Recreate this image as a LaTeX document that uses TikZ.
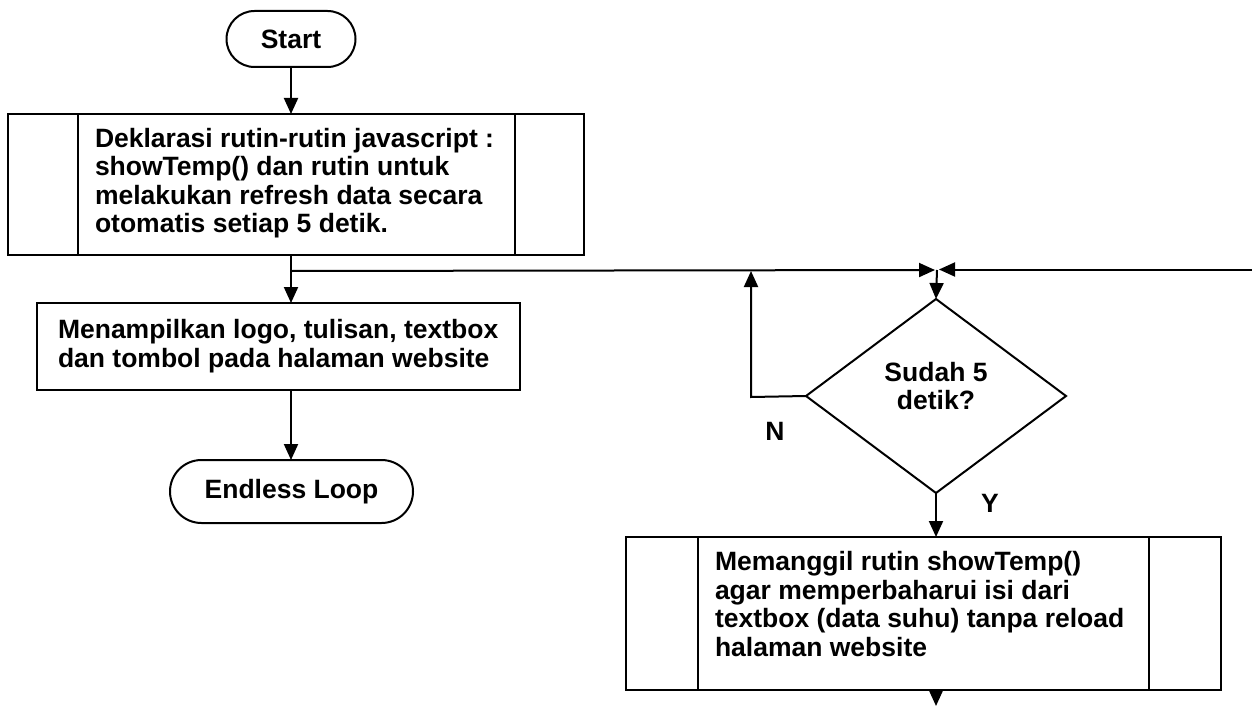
\documentclass[tikz,border=0pt]{standalone}
\usepackage{fontspec}
\setmainfont{Liberation Sans}
\usetikzlibrary{shapes.geometric,shapes.misc,arrows.meta,calc}
\begin{document}
\begin{tikzpicture}[x=1pt,y=-1pt,line width=2pt,
  every node/.style={inner sep=0pt,outer sep=0pt},
  txt/.style={font=\fontsize{26.5}{28.5}\selectfont\bfseries,align=left},
  ctxt/.style={font=\fontsize{26.5}{28.5}\selectfont\bfseries,align=center},
  term/.style={draw,rounded rectangle,ctxt},
  procbox/.style={draw,rectangle},
  decbox/.style={draw,diamond,ctxt},
  arr/.style={-{Triangle[length=16pt,width=14pt]}}]
\useasboundingbox (0,0) rectangle (1252,706);
% terminals
\node[term,minimum width=129pt,minimum height=56pt] (start) at (291,39) {Start};
% predefined process 1
\node[procbox,minimum width=576pt,minimum height=141pt] (dek) at (296,184.5) {};
\draw ($(dek.north west)+(70,0)$) -- ($(dek.south west)+(70,0)$);
\draw ($(dek.north east)+(-69,0)$) -- ($(dek.south east)+(-69,0)$);
\node[txt,anchor=west] (dektxt) at (95,183) {Deklarasi rutin-rutin javascript :\\showTemp() dan rutin untuk\\melakukan refresh data secara\\otomatis setiap 5 detik.};
% process 2
\node[procbox,minimum width=483pt,minimum height=87pt] (tampil) at (278.5,346.5) {};
\node[txt,anchor=west] (tampiltxt) at (58,346) {Menampilkan logo, tulisan, textbox\\dan tombol pada halaman website};
\node[term,minimum width=243pt,minimum height=63pt] (endl) at (291.5,491.5) {Endless Loop};
% decision
\node[decbox,minimum width=260pt,minimum height=194pt] (dec) at (936,396) {};
\node[ctxt] (dectxt) at (936,386) {Sudah 5\\detik?};
% predefined process 3
\node[procbox,minimum width=595pt,minimum height=153pt] (panggil) at (923.5,613.5) {};
\draw ($(panggil.north west)+(72,0)$) -- ($(panggil.south west)+(72,0)$);
\draw ($(panggil.north east)+(-72,0)$) -- ($(panggil.south east)+(-72,0)$);
\node[txt,anchor=west] (panggiltxt) at (715,604) {Memanggil rutin showTemp()\\agar memperbaharui isi dari\\textbox (data suhu) tanpa reload\\halaman website};
% coordinates
\coordinate (j1) at (291,271);
\coordinate (jm) at (937,270);
\coordinate (nx) at (751,397);
\coordinate (rin) at (1252,269.5);
\coordinate (bout) at (936,706);
% labels
\node[ctxt] (nlab) at (775,431) {N};
\node[ctxt] (ylab) at (990,503) {Y};
% connectors
\draw[arr] (start.south) -- (start.south |- dek.north);
\draw (j1 |- dek.south) -- (j1);
\draw[arr] (j1) -- (j1 |- tampil.north);
\draw[arr] (j1) -- ([xshift=-2pt]jm);
\draw[arr] (rin) -- ([xshift=2pt]jm |- rin);
\draw[arr] (jm) -- (dec.north);
\draw[arr] (dec.west) -- (nx) -- (nx |- j1);
\draw[arr] (291,390) -- (291,460);
\draw[arr] (dec.south) -- (dec.south |- panggil.north);
\draw[arr] (panggil.south -| dec.south) -- (bout);
\end{tikzpicture}
\end{document}
